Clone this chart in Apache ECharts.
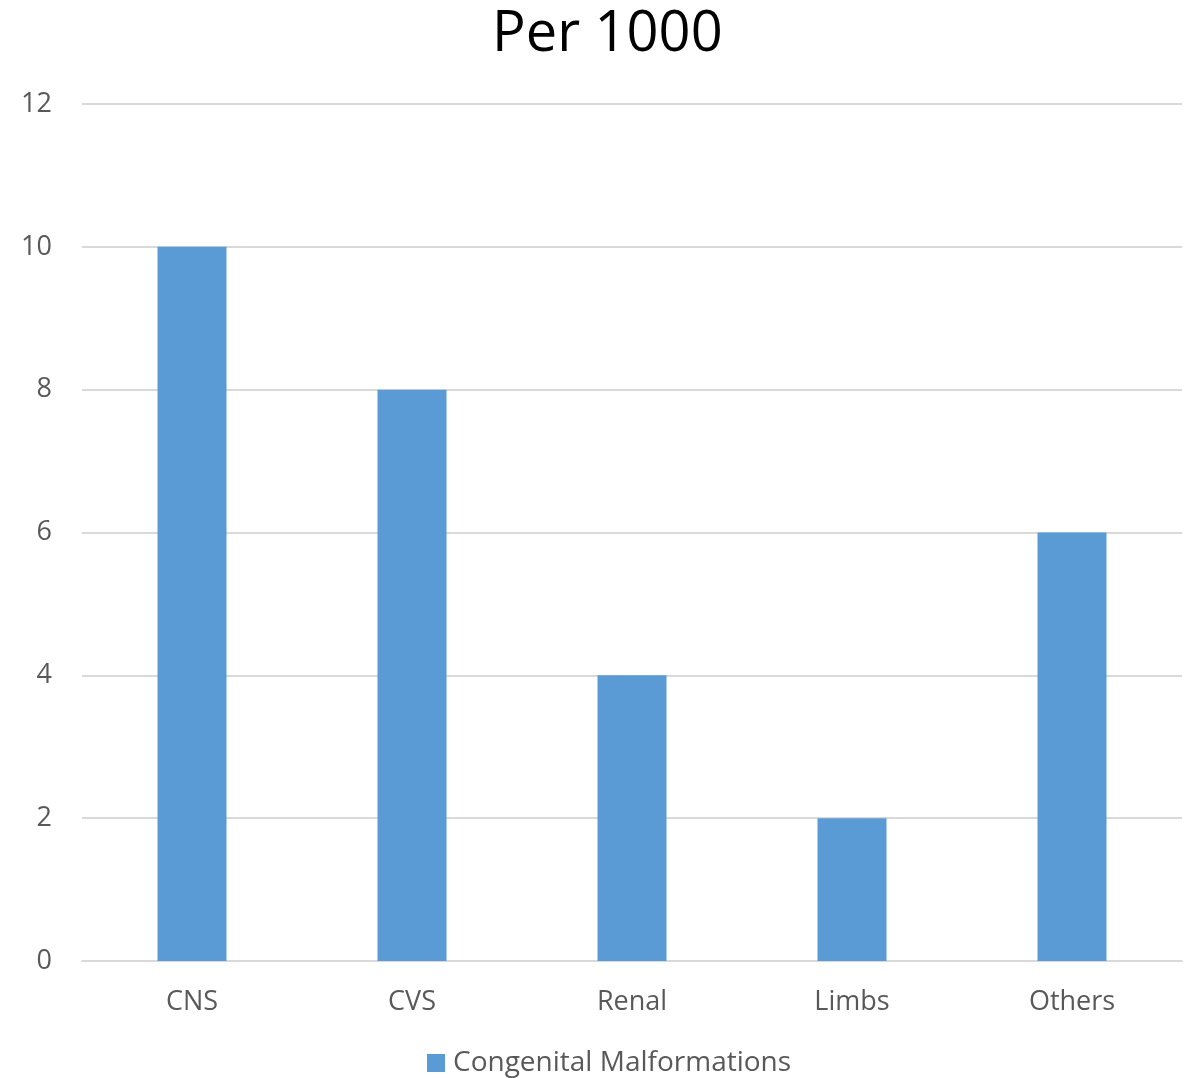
<!DOCTYPE html>
<html>
<head>
<meta charset="utf-8">
<script src="https://cdn.jsdelivr.net/npm/echarts@6/dist/echarts.min.js"></script>
<style>
    html, body { margin: 0; padding: 0; background: #fff; }
    #chart { width: 1190px; height: 1078px; }
</style>
</head>
<body>
<div id="chart"></div>
<script>
    // data
    var categories = ['CNS', 'CVS', 'Renal', 'Limbs', 'Others'];
    var perThousand = [10, 8, 4, 2, 6];
    var seriesName = 'Congenital Malformations';

    var chart = echarts.init(document.getElementById('chart'));
    var option = {
        animation: false,
        textStyle: { fontFamily: '"Open Sans", "Noto Sans", sans-serif' },
        title: {
            text: 'Per 1000',
            left: 487,
            top: 2,
            textStyle: { fontSize: 56, fontWeight: 'normal', color: '#000', fontFamily: '"Open Sans", sans-serif' }
        },
        legend: {
            bottom: -4,
            left: 422,
            itemWidth: 18,
            itemHeight: 18,
            icon: 'rect',
            textStyle: { fontSize: 28, color: '#595959', padding: [0, 0, 0, 3] },
            data: [seriesName]
        },
        grid: { left: 82, right: 8, top: 104, bottom: 117 },
        xAxis: {
            type: 'category',
            data: categories,
            axisLine: { lineStyle: { color: '#d9d9d9', width: 2 } },
            axisTick: { show: false },
            axisLabel: { fontSize: 27, color: '#595959', margin: 28 }
        },
        yAxis: {
            type: 'value',
            min: 0,
            max: 12,
            interval: 2,
            axisLine: { show: false },
            axisTick: { show: false },
            axisLabel: { fontSize: 27, color: '#595959', margin: 30 },
            splitLine: { lineStyle: { color: '#d9d9d9', width: 2 } }
        },
        series: [{
            name: seriesName,
            type: 'bar',
            data: perThousand,
            barWidth: 69,
            itemStyle: { color: '#5b9bd5' }
        }]
    };
    chart.setOption(option);
</script>
</body>
</html>
